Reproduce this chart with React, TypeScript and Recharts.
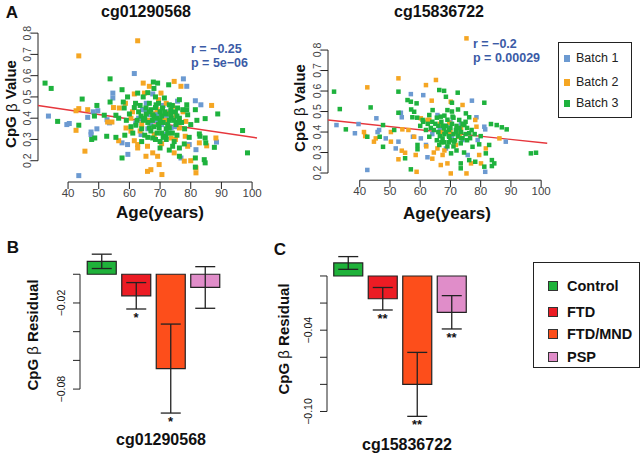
import React from "react";
import {
  ScatterChart,
  Scatter,
  ComposedChart,
  Bar,
  Cell,
  ErrorBar,
  XAxis,
  YAxis,
  ReferenceLine,
} from "recharts";

const FONT = "'Liberation Sans', Arial, Helvetica, sans-serif";

// ---- panel A data: [age, beta] ----
const batches = ["Batch 1", "Batch 2", "Batch 3"];
const batchColors = ["#6c9ad1", "#f5a623", "#1eb23d"];

const left1: [number, number][] = [
  [33.6, 0.41], [39.6, 0.37], [40.4, 0.375], [46.4, 0.404], [48.2, 0.43], [49.7, 0.435],
  [49.4, 0.35], [47.5, 0.335], [47.5, 0.323], [43.5, 0.13], [54.6, 0.518], [54.6, 0.495],
  [53.5, 0.378], [52.7, 0.393], [57.6, 0.284], [59.5, 0.23], [59.4, 0.276], [61.6, 0.61],
  [62.1, 0.378], [63.8, 0.323], [64.3, 0.44], [77.6, 0.585], [78.7, 0.55], [81.5, 0.482],
  [83.3, 0.463], [88.4, 0.288], [76.8, 0.213], [75.7, 0.48], [69.7, 0.432], [67.6, 0.514],
  [73.6, 0.354], [71.4, 0.323], [66.7, 0.416], [79.5, 0.276], [81.7, 0.252], [68.5, 0.39],
  [70.5, 0.37], [72, 0.41], [66, 0.35], [74.5, 0.4], [65.5, 0.47], [71, 0.46], [63, 0.4],
  [67, 0.37], [69, 0.42], [73, 0.43], [65, 0.44], [75, 0.36],
];
const left2: [number, number][] = [
  [43.5, 0.693], [62.7, 0.764], [42.6, 0.435], [43.5, 0.445], [42.6, 0.343], [45.5, 0.245],
  [46.4, 0.44], [52.9, 0.382], [54.3, 0.382], [56.5, 0.294], [58.9, 0.354], [60.5, 0.339],
  [61.6, 0.294], [62.7, 0.276], [64.5, 0.565], [64.9, 0.518], [58.7, 0.47], [61.6, 0.514],
  [56.7, 0.448], [54.8, 0.45], [62.7, 0.26], [74.6, 0.573], [76.8, 0.55], [66.5, 0.55],
  [70.3, 0.518], [69.5, 0.487], [74.1, 0.456], [72.8, 0.424], [78.4, 0.385], [82.8, 0.284],
  [79, 0.268], [81.7, 0.166], [81.7, 0.143], [70.6, 0.135], [69.7, 0.182], [67.6, 0.237],
  [69.2, 0.221], [67, 0.158], [65.9, 0.15], [65.4, 0.221], [65.9, 0.268], [76.3, 0.354],
  [73.6, 0.307], [88.2, 0.307], [78.2, 0.315], [74.6, 0.237], [75.2, 0.41], [68.1, 0.323],
  [77.9, 0.198], [86.8, 0.46], [85.2, 0.27], [80, 0.2], [64, 0.37], [67.5, 0.42],
  [71.5, 0.39], [60.5, 0.4], [66, 0.39], [69, 0.44], [72, 0.47], [63.5, 0.34], [70.5, 0.28],
  [75, 0.3], [77.5, 0.43], [61, 0.43],
];
const left3: [number, number][] = [
  [32.5, 0.565], [34.5, 0.54], [36.6, 0.385], [44.6, 0.49], [43.5, 0.367], [53.7, 0.585],
  [49.4, 0.46], [48.6, 0.41], [47.7, 0.3], [48.7, 0.307], [52.6, 0.315], [55.6, 0.31],
  [53.7, 0.476], [57.6, 0.534], [58, 0.476], [59.4, 0.5], [58.3, 0.448], [57.6, 0.213],
  [55.6, 0.414], [51.8, 0.414], [61.6, 0.45], [62.1, 0.367], [61.1, 0.33], [62.7, 0.518],
  [63.8, 0.41], [65.4, 0.448], [96.9, 0.342], [98.5, 0.237], [81.5, 0.44], [84.7, 0.398],
  [88.8, 0.42], [83, 0.315], [84.7, 0.307], [84.9, 0.284], [87.7, 0.263], [84.4, 0.205],
  [84.7, 0.19], [81.5, 0.213], [81.5, 0.17], [78.7, 0.463], [78.7, 0.44], [82.8, 0.326],
  [72.8, 0.557], [69.2, 0.565], [67.8, 0.57], [76.3, 0.487], [75.7, 0.448], [77.4, 0.44],
  [76.3, 0.4], [79, 0.416], [75.2, 0.37], [73, 0.354], [71.9, 0.315], [74.6, 0.29],
  [76.3, 0.26], [77.9, 0.279], [69.7, 0.354], [67.6, 0.416], [68.7, 0.463], [70.8, 0.448],
  [71.4, 0.495], [66.5, 0.354], [67.6, 0.307], [73.6, 0.4], [73, 0.463], [76.3, 0.221],
  [74.1, 0.268], [64.5, 0.39], [65.5, 0.42], [66, 0.38], [67, 0.44], [68, 0.36], [69, 0.4],
  [70, 0.43], [70.5, 0.33], [71, 0.38], [72, 0.42], [72.5, 0.37], [73.5, 0.44], [74, 0.33],
  [66.5, 0.47], [68.5, 0.5], [69.5, 0.47], [63, 0.43], [64, 0.35], [65, 0.32], [67, 0.34],
  [68.5, 0.3], [70, 0.29], [72, 0.3], [74.5, 0.39], [75.5, 0.32], [77, 0.38], [78, 0.35],
  [79.5, 0.31], [80, 0.37], [82, 0.39], [62, 0.47], [60, 0.42], [56.5, 0.4], [59, 0.39],
  [63.5, 0.46], [64.5, 0.5], [65, 0.4], [66.5, 0.43], [67.5, 0.39], [68, 0.41], [68.5, 0.45],
  [69.5, 0.37], [70, 0.39], [70.5, 0.41], [71.5, 0.43], [72, 0.35], [73, 0.39], [73.5, 0.42],
  [74, 0.46], [75, 0.43], [75.5, 0.41], [76, 0.38], [69, 0.33], [71, 0.31], [72.5, 0.33],
  [66, 0.31], [64, 0.29], [70, 0.26], [73, 0.25], [60.5, 0.36], [58.5, 0.32], [62.5, 0.39],
  [66, 0.52], [68, 0.54],
];

const right1: [number, number][] = [
  [32.3, 0.434], [38.4, 0.394], [39.6, 0.439], [42.5, 0.215], [45.5, 0.467], [45.9, 0.4],
  [46.4, 0.41], [48.6, 0.369], [51.9, 0.32], [52.8, 0.353], [53.6, 0.494], [53.9, 0.472],
  [56.9, 0.585], [61, 0.58], [57.6, 0.377], [61.9, 0.337], [62.4, 0.277], [60.2, 0.369],
  [77.1, 0.553], [78.6, 0.472], [81.2, 0.426], [81.5, 0.413], [88.3, 0.353], [81.5, 0.206],
  [75.7, 0.288], [65.7, 0.483], [68.5, 0.32], [74, 0.361], [79, 0.361], [66.5, 0.42],
  [70, 0.45], [72, 0.4], [64, 0.39], [67.5, 0.41], [70.5, 0.38], [73.5, 0.44], [69, 0.43],
];
const right2: [number, number][] = [
  [42.5, 0.618], [52.8, 0.662], [61.9, 0.629], [65.2, 0.654], [63.8, 0.553], [41.4, 0.4],
  [41.8, 0.38], [44.7, 0.353], [45.3, 0.369], [50.3, 0.4], [50.3, 0.353], [52.8, 0.267],
  [53.9, 0.309], [55, 0.299], [58.5, 0.288], [58.8, 0.206], [58, 0.377], [54.1, 0.413],
  [56.1, 0.41], [60.2, 0.467], [62.4, 0.459], [75.3, 0.857], [70.1, 0.548], [74, 0.532],
  [78.2, 0.459], [78.6, 0.426], [86.2, 0.369], [81.7, 0.32], [79.5, 0.288], [80.1, 0.247],
  [76.8, 0.247], [75.3, 0.198], [70.1, 0.198], [69, 0.247], [66.8, 0.239], [67.4, 0.288],
  [65.7, 0.32], [71.8, 0.337], [72.9, 0.377], [69.6, 0.445], [64, 0.27], [64.5, 0.3],
  [67, 0.4], [62, 0.33], [73.5, 0.42], [66.5, 0.44], [70, 0.4], [73, 0.39], [63, 0.46],
  [68, 0.31],
];
const right3: [number, number][] = [
  [31.5, 0.597], [33.4, 0.512], [35.4, 0.413], [43.6, 0.52], [42.5, 0.377], [46.6, 0.377],
  [47.7, 0.328], [47.7, 0.434], [52.8, 0.597], [52.8, 0.494], [55.8, 0.556], [56.9, 0.548],
  [58.8, 0.54], [58, 0.499], [57.4, 0.472], [51.4, 0.41], [55, 0.272], [56.9, 0.218],
  [59.1, 0.337], [59.1, 0.316], [61.9, 0.41], [60.8, 0.459], [63, 0.483], [64.1, 0.507],
  [63, 0.377], [96.6, 0.296], [98.3, 0.299], [85.3, 0.434], [87, 0.423], [88.6, 0.413],
  [83.4, 0.439], [81.2, 0.543], [82.8, 0.337], [83.7, 0.263], [83.7, 0.234], [84.5, 0.247],
  [81.7, 0.296], [81.2, 0.231], [78.2, 0.255], [76.2, 0.263], [73.4, 0.247], [73.4, 0.223],
  [72.4, 0.592], [67.9, 0.601], [66.3, 0.605], [68.5, 0.572], [70.5, 0.543], [75.1, 0.491],
  [76.2, 0.472], [70.7, 0.475], [69, 0.507], [66.8, 0.475], [72.9, 0.459], [74.6, 0.434],
  [71.8, 0.41], [69.6, 0.377], [67.4, 0.369], [66.3, 0.337], [71.2, 0.353], [73.4, 0.345],
  [77.3, 0.328], [67.9, 0.418], [76.2, 0.394], [65, 0.44], [66, 0.4], [67, 0.45], [68, 0.39],
  [68.5, 0.43], [69.5, 0.41], [70, 0.36], [70.5, 0.44], [71, 0.39], [72, 0.43], [72.5, 0.38],
  [73.5, 0.4], [74, 0.37], [75, 0.45], [75.5, 0.36], [77, 0.41], [78, 0.39], [64, 0.45],
  [65.5, 0.36], [68, 0.35], [69, 0.33], [70.2, 0.296], [72, 0.31], [74.5, 0.3], [62.5, 0.44],
  [60, 0.43], [59, 0.47], [57, 0.51], [79.5, 0.34], [80, 0.38], [64.5, 0.41], [65.5, 0.47],
  [66.5, 0.38], [67.5, 0.43], [68.5, 0.4], [69, 0.46], [69.5, 0.38], [70, 0.42], [71, 0.47],
  [71.5, 0.36], [72, 0.4], [73, 0.42], [73.5, 0.37], [74, 0.44], [75, 0.39], [75.5, 0.42],
  [76.5, 0.37], [68, 0.48], [70.5, 0.5], [72.5, 0.51], [66, 0.43], [67, 0.35], [69.5, 0.35],
  [71, 0.33], [63.5, 0.42], [61, 0.45],
];

// regression fits (age, beta) at the ends of the plotting range
const fitLeft: [number, number][] = [[30.2, 0.46], [101.6, 0.307]];
const fitRight: [number, number][] = [[29.5, 0.459], [102, 0.345]];

const ageTicks = [40, 50, 60, 70, 80, 90, 100];
const betaTicks = [0.2, 0.3, 0.4, 0.5, 0.6, 0.7, 0.8];

// ---- panels B and C ----
const groups = ["Control", "FTD", "FTD/MND", "PSP"];
const groupColors = ["#1fb23a", "#ec1c24", "#fd4e1b", "#e08dc9"];
const residB = [0.009, -0.015, -0.0657, -0.0092];
const errB = [0.005, 0.0092, 0.031, 0.0145];
const starsB = ["", "*", "*", ""];
const residC = [0.0096, -0.0168, -0.08, -0.0268];
const errC = [0.0047, 0.0083, 0.0236, 0.0123];
const starsC = ["", "**", "**", "**"];
const ticksB = [0, -0.02, -0.04, -0.06, -0.08];
const labelsB = [-0.02, -0.08];
const ticksC = [0, -0.02, -0.04, -0.06, -0.08, -0.1];
const labelsC = [-0.04, -0.1];

const toPts = (arr: [number, number][]) => arr.map(([age, beta]) => ({ age, beta }));
const seg = (arr: [number, number][]) => arr.map(([x, y]) => ({ x, y }));

const square = (size: number) => (p: any) => (
  <rect x={p.cx - size / 2} y={p.cy - size / 2} width={size} height={size} fill={p.fill} />
);

const BetaTick = (p: any) => (
  <text
    x={p.x + 2}
    y={p.y}
    transform={`rotate(-90 ${p.x + 2} ${p.y})`}
    textAnchor="middle"
    fontSize={10.5}
    fill="#444"
    fontFamily={FONT}
  >
    {p.payload.value.toFixed(1)}
  </text>
);

const residTick = (shown: number[]) => (p: any) => {
  const v = p.payload.value;
  if (!shown.some((s) => Math.abs(s - v) < 1e-9)) return <g />;
  return (
    <text
      x={p.x - 6}
      y={p.y}
      transform={`rotate(-90 ${p.x - 6} ${p.y})`}
      textAnchor="middle"
      fontSize={10.5}
      fill="#111"
      fontFamily={FONT}
    >
      {v.toFixed(2).replace("-", "\u2212")}
    </text>
  );
};

const StarShape = (p: any) =>
  p.payload.star ? (
    <text x={p.cx} y={p.cy + 13} textAnchor="middle" fontSize={13} fontWeight="bold" fill="#111" fontFamily={FONT}>
      {p.payload.star}
    </text>
  ) : (
    <g />
  );

type ScatterProps = {
  sets: [number, number][][];
  fit: [number, number][];
  xDomain: [number, number];
  yDomain: [number, number];
  size: number;
  margin: { top: number; right: number; bottom: number; left: number };
};

const AgeScatter = ({ sets, fit, xDomain, yDomain, size, margin }: ScatterProps) => (
  <ScatterChart width={270} height={220} margin={margin}>
    <XAxis
      type="number"
      dataKey="age"
      domain={xDomain}
      ticks={ageTicks}
      interval={0}
      allowDataOverflow
      axisLine={false}
      tickSize={7}
      tickMargin={0}
      height={18}
      stroke="#222"
      tick={{ fontSize: 11.5, fill: "#444", fontFamily: FONT }}
    />
    <YAxis
      type="number"
      dataKey="beta"
      domain={yDomain}
      ticks={betaTicks}
      interval={0}
      allowDataOverflow
      axisLine={false}
      tickSize={7}
      width={30}
      stroke="#222"
      tick={BetaTick}
    />
    <ReferenceLine segment={[{ x: 40, y: yDomain[0] }, { x: 100, y: yDomain[0] }]} stroke="#222" ifOverflow="visible" />
    <ReferenceLine segment={[{ x: xDomain[0], y: 0.2 }, { x: xDomain[0], y: 0.8 }]} stroke="#222" ifOverflow="visible" />
    {sets.map((s, i) => (
      <Scatter key={batches[i]} name={batches[i]} data={toPts(s)} fill={batchColors[i]} shape={square(size)} isAnimationActive={false} />
    ))}
    <ReferenceLine segment={seg(fit)} stroke="#e6363c" strokeWidth={1.4} ifOverflow="visible" />
  </ScatterChart>
);

type BarProps = {
  resid: number[];
  err: number[];
  stars: string[];
  ticks: number[];
  labels: number[];
  domain: [number, number];
  padLeft: number;
  margin: { top: number; right: number; bottom: number; left: number };
};

const ResidualBars = ({ resid, err, stars, ticks, labels, domain, padLeft, margin }: BarProps) => {
  const data = groups.map((g, i) => ({ group: g, resid: resid[i], err: err[i], low: resid[i] - err[i], star: stars[i] }));
  return (
    <ComposedChart width={240} height={205} data={data} margin={margin}>
      <XAxis dataKey="group" hide padding={{ left: padLeft, right: 0 }} />
      <XAxis xAxisId="frame" type="number" domain={[0, 1]} hide />
      <YAxis
        type="number"
        domain={domain}
        ticks={ticks}
        interval={0}
        axisLine={false}
        tickSize={7}
        width={50}
        stroke="#222"
        tick={residTick(labels)}
      />
      <ReferenceLine
        xAxisId="frame"
        segment={[{ x: 0, y: ticks[0] }, { x: 0, y: ticks[ticks.length - 1] }]}
        stroke="#222"
        ifOverflow="visible"
      />
      <Bar dataKey="resid" barSize={29} stroke="#222" strokeWidth={1.2} isAnimationActive={false}>
        {data.map((d, i) => (
          <Cell key={d.group} fill={groupColors[i]} />
        ))}
        <ErrorBar dataKey="err" width={10} stroke="#222" strokeWidth={1.3} />
      </Bar>
      <Scatter dataKey="low" shape={StarShape} isAnimationActive={false} />
    </ComposedChart>
  );
};

const abs = (left: number, top: number): React.CSSProperties => ({ position: "absolute", left, top });

const Ylab = ({ x, y, text }: { x: number; y: number; text: string }) => (
  <text
    x={x}
    y={y}
    transform={`rotate(-90 ${x} ${y})`}
    textAnchor="middle"
    dominantBaseline="central"
    fontSize={15}
    fontWeight="bold"
    fill="#111"
  >
    CpG <tspan fontWeight="normal">β</tspan> {text}
  </text>
);

export default function App() {
  return (
    <div style={{ position: "absolute", left: 0, top: 0, width: 640, height: 453, background: "#fff", fontFamily: FONT, overflow: "hidden" }}>
      <div style={abs(0, 0)}>
        <AgeScatter
          sets={[left1, left2, left3]}
          fit={fitLeft}
          xDomain={[30.2, 101.6]}
          yDomain={[0.1, 0.81]}
          size={5}
          margin={{ top: 31, right: 13, bottom: 20, left: 8 }}
        />
      </div>
      <div style={abs(290, 0)}>
        <AgeScatter
          sets={[right1, right2, right3]}
          fit={fitRight}
          xDomain={[29.5, 102]}
          yDomain={[0.165, 0.87]}
          size={4.5}
          margin={{ top: 35.7, right: 12.8, bottom: 21.8, left: 8 }}
        />
      </div>
      <div style={abs(0, 240)}>
        <ResidualBars
          resid={residB}
          err={errB}
          stars={starsB}
          ticks={ticksB}
          labels={labelsB}
          domain={[-0.1, 0.016]}
          padLeft={4.25}
          margin={{ top: 11.3, right: 17.75, bottom: 27.2, left: 30 }}
        />
      </div>
      <div style={abs(250, 240)}>
        <ResidualBars
          resid={residC}
          err={errC}
          stars={starsC}
          ticks={ticksC}
          labels={labelsC}
          domain={[-0.106, 0.016]}
          padLeft={3.75}
          margin={{ top: 14.3, right: 21.25, bottom: 25.4, left: 27 }}
        />
      </div>

      <svg width={640} height={453} style={{ position: "absolute", left: 0, top: 0, pointerEvents: "none" }} fontFamily={FONT}>
        <text x={12} y={12} textAnchor="middle" dominantBaseline="central" fontSize={17} fontWeight="bold" fill="#111">A</text>
        <text x={13} y={247} textAnchor="middle" dominantBaseline="central" fontSize={17} fontWeight="bold" fill="#111">B</text>
        <text x={280} y={249} textAnchor="middle" dominantBaseline="central" fontSize={17} fontWeight="bold" fill="#111">C</text>

        <text x={146} y={11} textAnchor="middle" dominantBaseline="central" fontSize={16} fontWeight="bold" fill="#111">cg01290568</text>
        <text x={439} y={11} textAnchor="middle" dominantBaseline="central" fontSize={16} fontWeight="bold" fill="#111">cg15836722</text>

        <Ylab x={10.5} y={104} text="Value" />
        <Ylab x={299} y={108} text="Value" />
        <Ylab x={32} y={335} text="Residual" />
        <Ylab x={283} y={339} text="Residual" />

        <text x={160} y={212} textAnchor="middle" dominantBaseline="central" fontSize={17} fontWeight="bold" fill="#111">Age(years)</text>
        <text x={447} y={213} textAnchor="middle" dominantBaseline="central" fontSize={17} fontWeight="bold" fill="#111">Age(years)</text>

        <text x={191} y={48.5} dominantBaseline="central" fontSize={12.5} fontWeight="bold" fill="#3b5ba6">r = −0.25</text>
        <text x={191} y={62.5} dominantBaseline="central" fontSize={12.5} fontWeight="bold" fill="#3b5ba6">p = 5e−06</text>
        <text x={473} y={44} dominantBaseline="central" fontSize={12.5} fontWeight="bold" fill="#3b5ba6">r = −0.2</text>
        <text x={473} y={58} dominantBaseline="central" fontSize={12.5} fontWeight="bold" fill="#3b5ba6">p = 0.00029</text>

        <text x={161} y={439} textAnchor="middle" dominantBaseline="central" fontSize={16} fontWeight="bold" fill="#111">cg01290568</text>
        <text x={407} y={444} textAnchor="middle" dominantBaseline="central" fontSize={16} fontWeight="bold" fill="#111">cg15836722</text>
      </svg>

      {/* batch legend */}
      <div style={{ ...abs(558, 42), width: 74, height: 76, border: "1px solid #222", boxSizing: "border-box" }}>
        {batches.map((b, i) => (
          <div key={b} style={{ position: "absolute", left: 5, top: [9, 33, 54][i], height: 12, display: "flex", alignItems: "center", fontSize: 12.5, color: "#222" }}>
            <span style={{ display: "inline-block", width: 6, height: 7, background: batchColors[i], marginRight: 6 }} />
            {b}
          </div>
        ))}
      </div>

      {/* group legend */}
      <div style={{ ...abs(533, 262), width: 107, height: 106, border: "1px solid #222", boxSizing: "border-box" }}>
        {groups.map((g, i) => (
          <div key={g} style={{ position: "absolute", left: 14, top: [15, 41, 63, 86][i], height: 16, display: "flex", alignItems: "center", fontSize: 14.5, fontWeight: "bold", color: "#111" }}>
            <span style={{ display: "inline-block", width: 8, height: 8, background: groupColors[i], border: "1px solid #333", marginRight: 9 }} />
            {g}
          </div>
        ))}
      </div>
    </div>
  );
}
